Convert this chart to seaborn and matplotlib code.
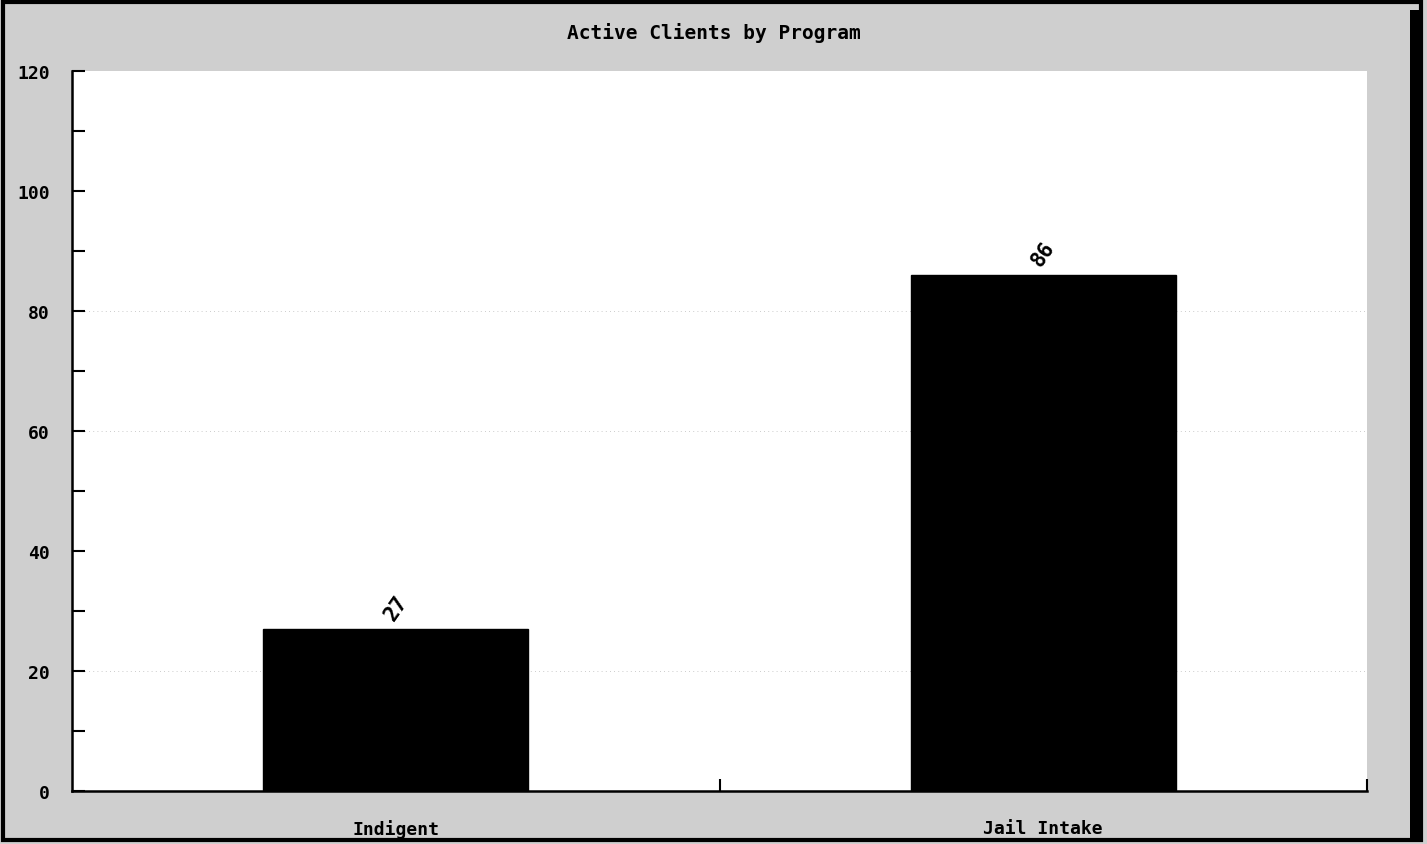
import matplotlib
matplotlib.use("Agg")
import matplotlib.pyplot as plt
from matplotlib.patches import Rectangle
from matplotlib.ticker import MultipleLocator, FixedLocator
import seaborn as sns
import pandas as pd

programs = ["Indigent", "Jail Intake"]
clients = [27, 86]
y_ticks = [0, 20, 40, 60, 80, 100, 120]

sns.set_style("white")
plt.rcParams['font.family'] = ['DejaVu Sans Mono', 'DejaVu Sans']
plt.rcParams['text.color'] = 'black'
plt.rcParams['xtick.color'] = 'black'
plt.rcParams['ytick.color'] = 'black'

df = pd.DataFrame({"Program": programs, "Clients": clients})

fig = plt.figure(figsize=(14.27, 8.45), dpi=100)
fig.patch.set_facecolor("#cfcfcf")
ax = fig.add_axes([72/1427, 53/845, 1295/1427, 720/845])
ax.set_facecolor("white")

sns.barplot(data=df, x="Program", y="Clients", color="black", width=0.41,
            saturation=1, ax=ax)
for p in ax.patches:
    p.set_edgecolor("black")

ax.set_xlim(-0.5, 1.5)
ax.set_ylim(0, 120)
ax.yaxis.set_major_locator(FixedLocator(y_ticks))
ax.yaxis.set_minor_locator(MultipleLocator(10))
ax.set_yticklabels([str(v) for v in y_ticks], fontsize=13, fontweight="bold")
ax.tick_params(axis="y", which="both", left=True, direction="in", length=9,
               width=1.5, pad=16)

ax.set_xticks([0, 1])
ax.set_xticklabels(programs, fontsize=13, fontweight="bold")
ax.tick_params(axis="x", which="major", bottom=True, length=0, pad=20)
ax.xaxis.set_minor_locator(FixedLocator([0.5, 1.5]))
ax.tick_params(axis="x", which="minor", bottom=True, direction="in", length=9, width=1.5)

for y in [20, 60, 80]:
    ax.axhline(y, color="#bbbbbb", lw=0.6, ls=(0, (1, 4)), zorder=0)

for s in ["top", "right"]:
    ax.spines[s].set_visible(False)
for s in ["left", "bottom"]:
    ax.spines[s].set_color("black")
    ax.spines[s].set_linewidth(1.8)

for i, v in enumerate(clients):
    ax.text(i, v + 1.0, str(v), rotation=55, ha="center", va="bottom",
            fontsize=15, fontweight="bold")

ax.set_xlabel("")
ax.set_ylabel("")
fig.text(0.5, 1 - 33/845, "Active Clients by Program", ha="center", va="center",
         fontsize=14, fontweight="bold")

fig.patches.append(Rectangle((3/1427, 4/845), 1418/1427, 838/845, transform=fig.transFigure,
                             fill=False, edgecolor="black", lw=3))
fig.patches.append(Rectangle((1410/1427, 4/845), 9/1427, 830/845, transform=fig.transFigure,
                             facecolor="black", edgecolor="none"))

fig.savefig("out.png", dpi=100, facecolor=fig.get_facecolor())
